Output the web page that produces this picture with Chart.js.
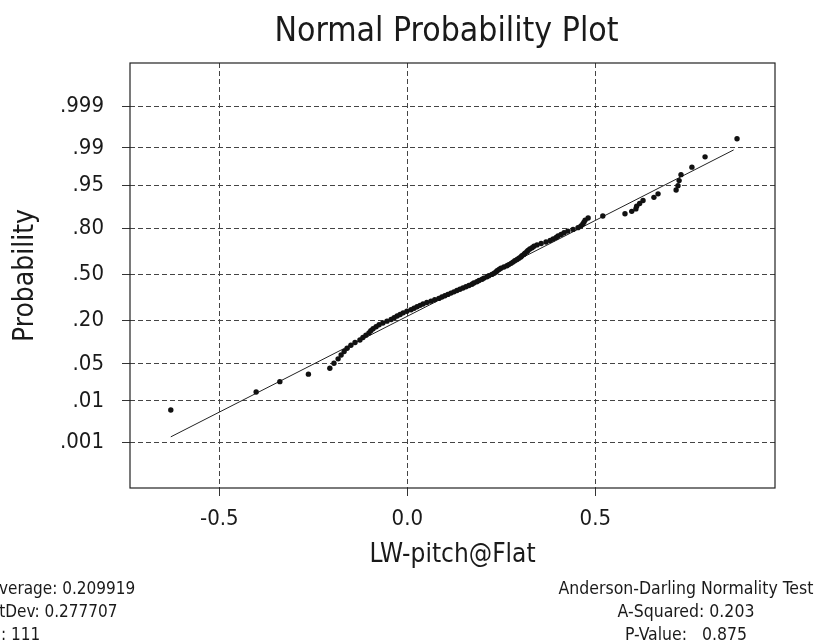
<!DOCTYPE html>
<html>
<head>
<meta charset="utf-8">
<script src="https://cdn.jsdelivr.net/npm/chart.js@4.4.1/dist/chart.umd.min.js"></script>
<style>
  html, body { margin: 0; padding: 0; background: #fff; }
  canvas { display: block; }
</style>
</head>
<body>
<canvas id="probPlot" width="816" height="644"></canvas>
<script>
// values (LW-pitch@Flat, sorted)
const pitch = [
  -0.629, -0.402, -0.339, -0.263, -0.206, -0.195, -0.184, -0.176, -0.168, -0.160,
  -0.150, -0.139, -0.126, -0.118, -0.110, -0.102, -0.097, -0.091, -0.083, -0.075,
  -0.065, -0.054, -0.043, -0.035, -0.027, -0.019, -0.011, -0.001, 0.010, 0.018,
  0.026, 0.034, 0.042, 0.052, 0.063, 0.073, 0.084, 0.092, 0.100, 0.108,
  0.116, 0.124, 0.132, 0.140, 0.148, 0.156, 0.164, 0.172, 0.177, 0.185,
  0.191, 0.199, 0.204, 0.212, 0.217, 0.225, 0.231, 0.236, 0.239, 0.244,
  0.249, 0.257, 0.265, 0.270, 0.276, 0.281, 0.286, 0.292, 0.297, 0.302,
  0.305, 0.310, 0.313, 0.318, 0.321, 0.326, 0.332, 0.337, 0.345, 0.356,
  0.369, 0.380, 0.388, 0.396, 0.401, 0.409, 0.417, 0.427, 0.441, 0.454,
  0.462, 0.467, 0.470, 0.473, 0.481, 0.520, 0.579, 0.597, 0.608, 0.610,
  0.618, 0.627, 0.656, 0.667, 0.715, 0.720, 0.723, 0.728, 0.757, 0.792,
  0.877
];

// fitted line ends (x, probability)
const fitX = [-0.629, 0.868];
const fitP = [0.0014, 0.989];

const probTicks = [0.001, 0.01, 0.05, 0.20, 0.50, 0.80, 0.95, 0.99, 0.999];
const probLabels = [".001", ".01", ".05", ".20", ".50", ".80", ".95", ".99", ".999"];
const xTicks = [-0.5, 0.0, 0.5];

const leftNotes = ["Average: 0.209919", "StDev: 0.277707", "N: 111"];
const rightNotes = ["Anderson-Darling Normality Test", "A-Squared: 0.203", "P-Value:   0.875"];

const FONT = "'DejaVu Sans Condensed', 'DejaVu Sans', sans-serif";

// inverse of the normal cdf (Acklam)
function probit(p) {
  const a = [-39.69683028665376, 220.9460984245205, -275.9285104469687, 138.3577518672690, -30.66479806614716, 2.506628277459239];
  const b = [-54.47609879822406, 161.5858368580409, -155.6989798598866, 66.80131188771972, -13.28068155288572];
  const c = [-0.007784894002430293, -0.3223964580411365, -2.400758277161838, -2.549732539343734, 4.374664141464968, 2.938163982698783];
  const d = [0.007784695709041462, 0.3224671290700398, 2.445134137142996, 3.754408661907416];
  const pl = 0.02425;
  let q, r;
  if (p < pl) {
    q = Math.sqrt(-2 * Math.log(p));
    return (((((c[0]*q+c[1])*q+c[2])*q+c[3])*q+c[4])*q+c[5]) / ((((d[0]*q+d[1])*q+d[2])*q+d[3])*q+1);
  }
  if (p > 1 - pl) {
    q = Math.sqrt(-2 * Math.log(1 - p));
    return -(((((c[0]*q+c[1])*q+c[2])*q+c[3])*q+c[4])*q+c[5]) / ((((d[0]*q+d[1])*q+d[2])*q+d[3])*q+1);
  }
  q = p - 0.5;
  r = q * q;
  return (((((a[0]*r+a[1])*r+a[2])*r+a[3])*r+a[4])*r+a[5])*q / (((((b[0]*r+b[1])*r+b[2])*r+b[3])*r+b[4])*r+1);
}

// median ranks for the plotting positions
const n = pitch.length;
const points = pitch.map((v, i) => ({ x: v, y: probit((i + 1 - 0.3) / (n + 0.4)) }));
const fitLine = fitX.map((v, i) => ({ x: v, y: probit(fitP[i]) }));

// frame + the stats text under the plot
const extras = {
  id: "extras",
  afterLayout(chart) {
    // title sits a bit left of the plot centre
    if (chart.titleBlock) {
      chart.titleBlock.left = 118;
      chart.titleBlock.right = 775;
    }
  },
  afterDraw(chart) {
    const { ctx, chartArea } = chart;
    ctx.save();
    ctx.strokeStyle = "#222";
    ctx.lineWidth = 1.2;
    ctx.strokeRect(chartArea.left, chartArea.top, chartArea.right - chartArea.left, chartArea.bottom - chartArea.top);

    ctx.fillStyle = "#1a1a1a";
    ctx.textBaseline = "alphabetic";
    const rows = [594, 617, 640];
    ctx.font = "17px " + FONT;
    ctx.textAlign = "left";
    leftNotes.forEach((t, i) => ctx.fillText(t, -10.5, rows[i]));
    ctx.font = "17.5px " + FONT;
    ctx.textAlign = "center";
    rightNotes.forEach((t, i) => ctx.fillText(t, 686, rows[i]));
    ctx.restore();
  }
};

const gridStyle = {
  color: "#444",
  lineWidth: 1,
  borderDash: [5, 3],
  tickLength: 8,
  tickBorderDash: [],
  tickColor: "#333"
};

new Chart(document.getElementById("probPlot"), {
  type: "scatter",
  data: {
    datasets: [
      {
        label: "LW-pitch@Flat",
        data: points,
        backgroundColor: "#111",
        borderWidth: 0,
        pointRadius: 2.7,
        pointHoverRadius: 2.7
      },
      {
        type: "line",
        label: "fit",
        data: fitLine,
        borderColor: "#222",
        borderWidth: 1,
        pointRadius: 0,
        fill: false
      }
    ]
  },
  options: {
    responsive: false,
    animation: false,
    devicePixelRatio: 1,
    layout: { padding: { left: 0, right: 41, top: 0, bottom: 0 } },
    plugins: {
      legend: { display: false },
      tooltip: { enabled: false },
      title: {
        display: true,
        text: "Normal Probability Plot",
        color: "#1a1a1a",
        font: { family: FONT, size: 33.5, weight: "normal", lineHeight: 1.2 },
        padding: { top: 12, bottom: 10.8 }
      }
    },
    scales: {
      x: {
        type: "linear",
        position: "bottom",
        min: -0.7375,
        max: 0.978,
        afterBuildTicks: (scale) => { scale.ticks = xTicks.map(v => ({ value: v })); },
        afterFit: (scale) => { scale.height = 156; },
        grid: gridStyle,
        border: { display: false, dash: [5, 3] },
        ticks: {
          color: "#1a1a1a",
          font: { family: FONT, size: 22 },
          padding: 10,
          maxRotation: 0,
          autoSkip: false,
          callback: (v) => Number(v).toFixed(1)
        },
        title: {
          display: true,
          text: "LW-pitch@Flat",
          color: "#1a1a1a",
          font: { family: FONT, size: 26, lineHeight: 1.2 },
          padding: { top: 0, bottom: 73 }
        }
      },
      y: {
        type: "linear",
        min: -3.93,
        max: 3.89,
        afterBuildTicks: (scale) => { scale.ticks = probTicks.map(p => ({ value: probit(p) })); },
        afterFit: (scale) => { scale.width = 130; },
        grid: gridStyle,
        border: { display: false, dash: [5, 3] },
        ticks: {
          color: "#1a1a1a",
          font: { family: FONT, size: 22 },
          padding: 18,
          autoSkip: false,
          callback: (v, i) => probLabels[i]
        },
        title: {
          display: true,
          text: "Probability",
          color: "#1a1a1a",
          font: { family: FONT, size: 28, lineHeight: 1.2 },
          padding: { top: 9, bottom: 0 }
        }
      }
    }
  },
  plugins: [extras]
});
</script>
</body>
</html>
